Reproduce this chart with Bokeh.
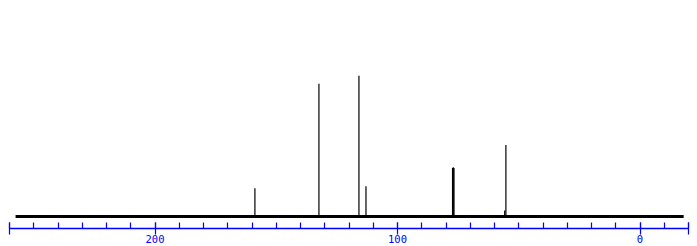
from bokeh.plotting import figure
from bokeh.models import Range1d, FixedTicker, LinearAxis
from bokeh.embed import file_html
from bokeh.resources import INLINE

# 13C NMR peaks (ppm) and relative intensities
shifts = [158.8, 132.4, 115.9, 113.0, 77.3, 77.0, 76.7, 55.3, 55.8]
intensities = [20.0, 94.3, 100.0, 21.4, 34.5, 35.0, 34.5, 50.7, 4.3]
baseline_ppm = [257.5, -18.0]
baseline_val = [0.0, 0.0]
major_ticks = [260, 200, 100, 0, -20]
tick_labels = {260: "", 200: "200", 100: "100", 0: "0", -20: ""}
minor_ticks = list(range(-20, 261, 10))

p = figure(width=697, height=246, output_backend="svg", toolbar_location=None,
           x_range=Range1d(260, -20), y_range=Range1d(-8.54, 153.4),
           x_axis_location=None, y_axis_location=None,
           min_border_left=9, min_border_right=9, min_border_top=0, min_border_bottom=18)
p.outline_line_color = None
p.grid.visible = False
p.background_fill_color = "white"

p.line(baseline_ppm, baseline_val, line_color="black", line_width=3)
p.segment(x0=shifts, y0=[0] * len(shifts), x1=shifts, y1=intensities,
          line_color="black", line_width=1.2)

ax = LinearAxis(ticker=FixedTicker(ticks=major_ticks, minor_ticks=minor_ticks))
ax.major_label_overrides = tick_labels
ax.axis_line_color = "#0000ff"
ax.axis_line_width = 1.3
ax.major_tick_line_color = "#0000ff"
ax.minor_tick_line_color = "#0000ff"
ax.major_tick_line_width = 1.2
ax.minor_tick_line_width = 1.2
ax.major_tick_in = 6
ax.major_tick_out = 6
ax.minor_tick_in = 6
ax.minor_tick_out = 0
ax.major_label_text_color = "#0000ff"
ax.major_label_text_font = "DejaVu Sans Mono"
ax.major_label_text_font_size = "10.5px"
ax.major_label_standoff = 0
p.add_layout(ax, "below")

open("out.html", "w").write(file_html(p, INLINE))
